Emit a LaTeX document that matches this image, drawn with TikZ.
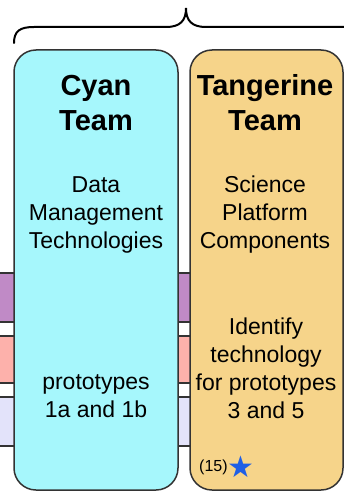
\documentclass[tikz,border=0pt]{standalone}
\usepackage{fontspec}
\setmainfont{Liberation Sans}
\newfontfamily\symfont{DejaVu Sans}
\definecolor{cyanfill}{HTML}{A6F7FC}
\definecolor{tangfill}{HTML}{F6D48A}
\definecolor{purplefill}{HTML}{C08AC6}
\definecolor{pinkfill}{HTML}{FDB1AB}
\definecolor{lavfill}{HTML}{E3E3FA}
\definecolor{edge}{HTML}{333333}
\definecolor{starblue}{HTML}{1F5FE6}
\begin{document}
\begin{tikzpicture}[x=1pt,y=-1pt,
  teambox/.style={draw=edge, line width=1.5pt, rounded corners=22pt, inner sep=0pt},
  band/.style={draw=edge, line width=1.4pt},
  title/.style={align=center, font=\fontsize{29}{35}\selectfont\bfseries, inner sep=0pt},
  body/.style={align=center, font=\fontsize{23}{28}\selectfont, inner sep=0pt}]
\useasboundingbox (0,0) rectangle (344,492);
\clip (0,0) rectangle (344,492);
% background bands
\draw[band, fill=purplefill] (-5,273) rectangle (350,322);
\draw[band, fill=white] (-5,322) rectangle (350,336);
\draw[band, fill=pinkfill] (-5,336) rectangle (350,383);
\draw[band, fill=white] (-5,383) rectangle (350,397);
\draw[band, fill=lavfill] (-5,397) rectangle (350,446);
% brace
\coordinate (bl) at (14,43);
\coordinate (bt) at (186,8);
\coordinate (br) at (350,27);
\draw[line width=2pt, line cap=round] (bl) .. controls (14,31) and (20,27) .. (34,27) -- (166,27)
  .. controls (180,27) and (186,21) .. (bt) .. controls (186,21) and (192,27) .. (206,27) -- (br);
% team boxes
\node[teambox, fill=cyanfill, minimum width=164pt, minimum height=440pt] (cyan) at (96,270) {};
\node[teambox, fill=tangfill, minimum width=153pt, minimum height=440pt] (tang) at (266.5,270) {};
% texts
\node[title] (cyant) at (96,103) {Cyan\\Team};
\node[title] (tangt) at (265,103) {Tangerine\\Team};
\node[body] (cyanb) at (96,215) {Data\\Management\\Technologies};
\node[body] (tangb) at (265,215) {Science\\Platform\\Components};
\node[body] (cyanp) at (96,396) {prototypes\\1a and 1b};
\node[body] (tangp) at (266,368) {Identify\\technology\\for prototypes\\3 and 5};
\node[font=\fontsize{16}{18}\selectfont, inner sep=0pt, anchor=west] (num) at (199,467) {(15)};
\node[font=\symfont\fontsize{30}{32}\selectfont, text=starblue, inner sep=0pt, anchor=west] (star) at ([xshift=-1pt]num.east) {★};
\end{tikzpicture}
\end{document}
